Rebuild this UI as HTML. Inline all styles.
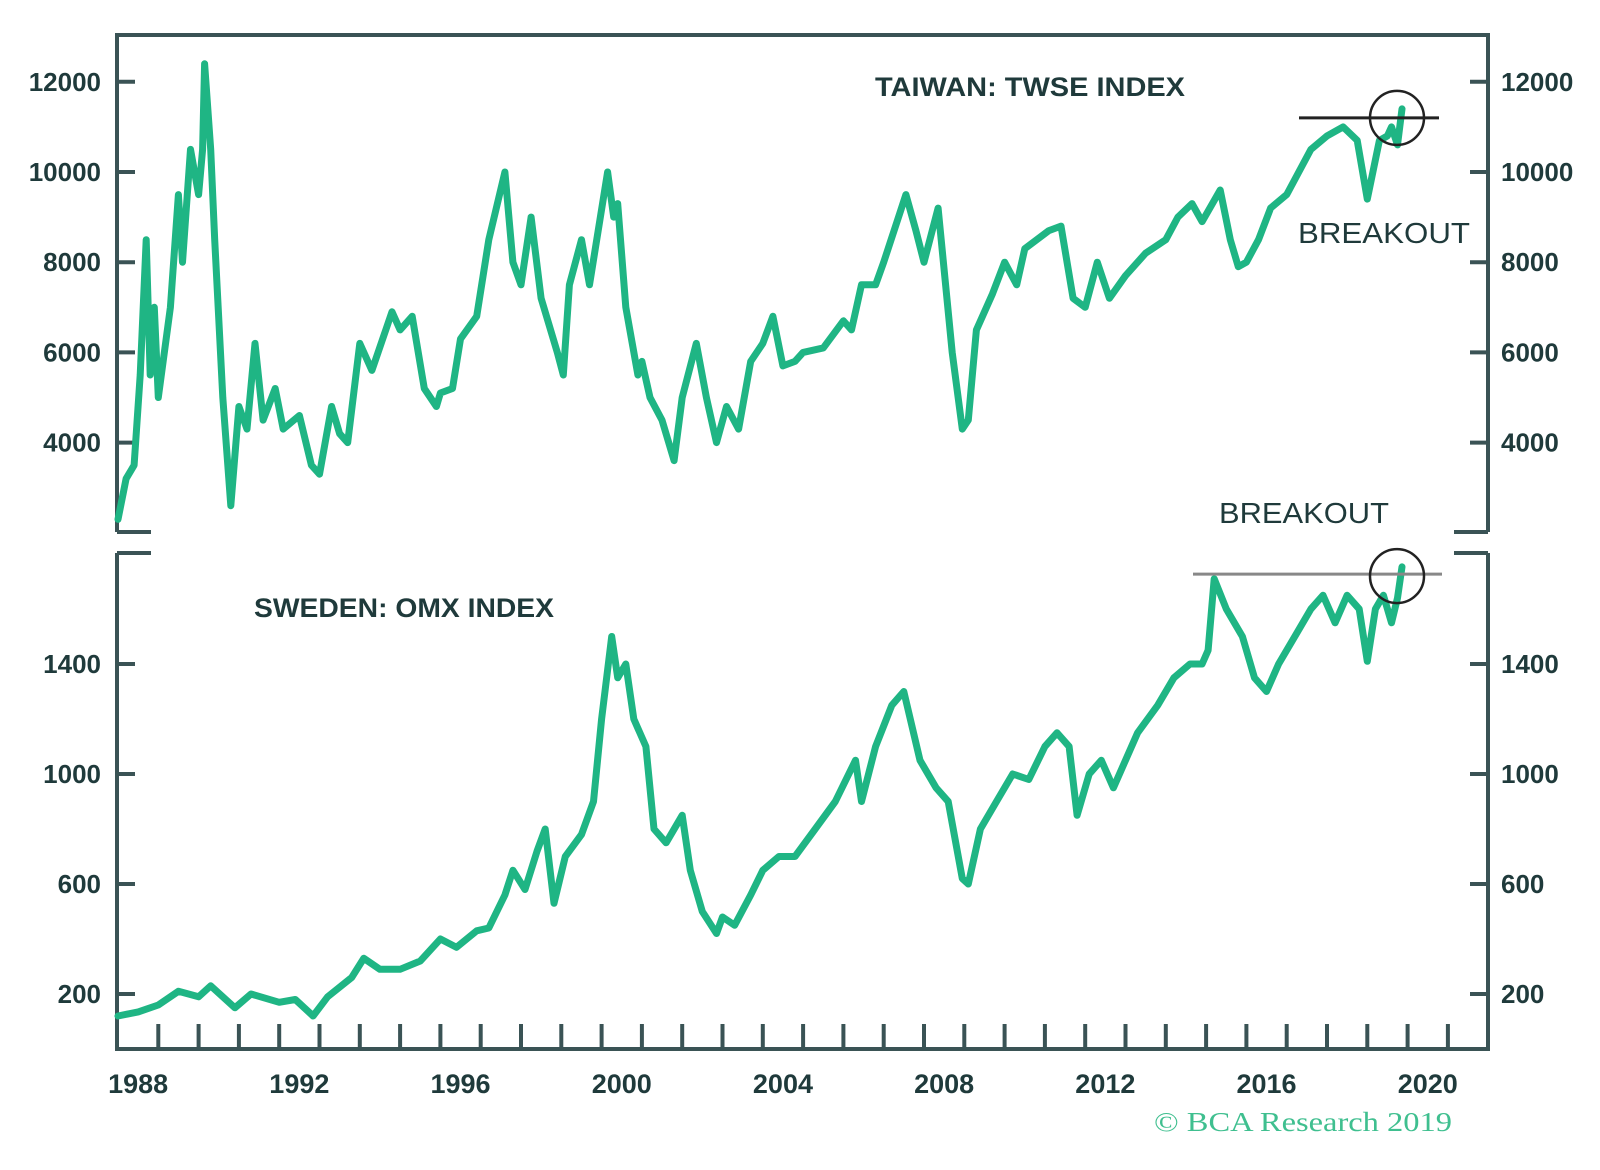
<!DOCTYPE html>
<html><head><meta charset="utf-8"><style>
html,body{margin:0;padding:0;background:#fff;}
svg{display:block;}
text{font-family:"Liberation Sans",sans-serif;}
</style></head><body>
<svg id="chart" width="1600" height="1170" viewBox="0 0 1600 1170" xmlns="http://www.w3.org/2000/svg"></svg>
<script>
const twYears=[1988.0,1988.2,1988.4,1988.55,1988.7,1988.8,1988.9,1989.0,1989.3,1989.5,1989.6,1989.8,1990.0,1990.1,1990.15,1990.3,1990.4,1990.6,1990.8,1991.0,1991.2,1991.4,1991.6,1991.9,1992.1,1992.5,1992.8,1993.0,1993.3,1993.5,1993.7,1994.0,1994.3,1994.8,1995.0,1995.3,1995.6,1995.9,1996.0,1996.3,1996.5,1996.9,1997.2,1997.6,1997.8,1998.0,1998.25,1998.5,1998.9,1999.05,1999.2,1999.5,1999.7,2000.15,2000.3,2000.4,2000.6,2000.9,2001.0,2001.2,2001.5,2001.8,2002.0,2002.35,2002.6,2002.85,2003.1,2003.4,2003.7,2004.0,2004.25,2004.5,2004.8,2005.0,2005.5,2006.0,2006.2,2006.45,2006.8,2007.0,2007.55,2007.8,2008.0,2008.35,2008.7,2008.95,2009.1,2009.3,2009.7,2010.0,2010.3,2010.5,2011.1,2011.4,2011.7,2012.0,2012.3,2012.6,2013.0,2013.5,2014.0,2014.3,2014.65,2014.9,2015.35,2015.6,2015.8,2016.0,2016.3,2016.6,2017.0,2017.3,2017.6,2018.0,2018.4,2018.75,2019.0,2019.3,2019.5,2019.6,2019.75,2019.86];
const twValues=[2300,3200,3500,5500,8500,5500,7000,5000,7000,9500,8000,10500,9500,10500,12400,10500,8500,5000,2600,4800,4300,6200,4500,5200,4300,4600,3500,3300,4800,4200,4000,6200,5600,6900,6500,6800,5200,4800,5100,5200,6300,6800,8500,10000,8000,7500,9000,7200,6000,5500,7500,8500,7500,10000,9000,9300,7000,5500,5800,5000,4500,3600,5000,6200,5000,4000,4800,4300,5800,6200,6800,5700,5800,6000,6100,6700,6500,7500,7500,8000,9500,8700,8000,9200,6000,4300,4500,6500,7300,8000,7500,8300,8700,8800,7200,7000,8000,7200,7700,8200,8500,9000,9300,8900,9600,8500,7900,8000,8500,9200,9500,10000,10500,10800,11000,10700,9400,10700,10800,11000,10600,11400];
const omxYears=[1988.0,1988.5,1989.0,1989.5,1990.0,1990.3,1990.9,1991.3,1992.0,1992.4,1992.84,1993.2,1993.8,1994.1,1994.5,1995.0,1995.5,1996.0,1996.4,1996.9,1997.2,1997.6,1997.8,1998.1,1998.4,1998.6,1998.82,1999.1,1999.5,1999.8,2000.0,2000.25,2000.4,2000.6,2000.8,2001.1,2001.3,2001.6,2002.0,2002.2,2002.5,2002.85,2003.0,2003.3,2003.7,2004.0,2004.4,2004.8,2005.3,2005.8,2006.3,2006.45,2006.8,2007.2,2007.5,2007.9,2008.3,2008.6,2008.95,2009.1,2009.4,2009.8,2010.2,2010.6,2011.0,2011.3,2011.6,2011.8,2012.1,2012.4,2012.7,2013.0,2013.3,2013.8,2014.2,2014.6,2014.9,2015.05,2015.2,2015.5,2015.9,2016.2,2016.5,2016.8,2017.2,2017.6,2017.9,2018.2,2018.5,2018.8,2019.0,2019.2,2019.4,2019.6,2019.75,2019.86];
const omxValues=[120,135,160,210,190,230,150,200,170,180,120,190,260,330,290,290,320,400,370,430,440,560,650,580,720,800,530,700,780,900,1200,1500,1350,1400,1200,1100,800,750,850,650,500,420,480,450,560,650,700,700,800,900,1050,900,1100,1250,1300,1050,950,900,620,600,800,900,1000,980,1100,1150,1100,850,1000,1050,950,1050,1150,1250,1350,1400,1400,1450,1710,1600,1500,1350,1300,1400,1500,1600,1650,1550,1650,1600,1410,1600,1650,1550,1640,1753];
const twTicks=[4000,6000,8000,10000,12000];
const omxTicks=[200,600,1000,1400];
const yearLabels=[1988,1992,1996,2000,2004,2008,2012,2016,2020];
const twBreakout=11200, omxBreakout=1727;

const NS='http://www.w3.org/2000/svg';
const svg=document.getElementById('chart');
const L=117,R=1488;
function x(yr){return 118+(yr-1988)*40.3;}
function yT(v){return 172-(v-10000)/2000*90.2;}
function yB(v){return 664-(v-1400)/400*110;}
function mk(tag,attrs,parent){const e=document.createElementNS(NS,tag);for(const k in attrs)e.setAttribute(k,attrs[k]);(parent||svg).appendChild(e);return e;}
const AX='#3a5355', TXT='#1f3a3b', GREEN='#1fb584';

const fr=mk('g',{});


mk('path',{d:`M${L},532 V35 H${R} V532 M${L},532 h34 M${R},532 h-34`,fill:'none',stroke:AX,'stroke-width':4},fr);
mk('path',{d:`M${L},553 V1049 H${R} V553 M${L},553 h34 M${R},553 h-34`,fill:'none',stroke:AX,'stroke-width':4},fr);

function yAxis(ticks,fn,name){
  const g=mk('g',{});
  
  
  ticks.forEach(t=>{
    const yy=fn(t);
    mk('line',{x1:L,x2:L+18,y1:yy,y2:yy,stroke:AX,'stroke-width':4},g);
    mk('line',{x1:R,x2:R-18,y1:yy,y2:yy,stroke:AX,'stroke-width':4},g);
    const a=mk('text',{x:101,y:yy+9,'text-anchor':'end','font-size':26,'font-weight':'bold',fill:TXT},g);a.textContent=t;
    
    
    const b=mk('text',{x:1501,y:yy+9,'text-anchor':'start','font-size':26,'font-weight':'bold',fill:TXT},g);b.textContent=t;
    
    
  });
}
yAxis(twTicks,yT,'taiwan-y-axis');
yAxis(omxTicks,yB,'sweden-y-axis');

const xg=mk('g',{});


for(let yr=1989;yr<=2021;yr++){mk('line',{x1:x(yr),x2:x(yr),y1:1049,y2:1024,stroke:AX,'stroke-width':4},xg);}
yearLabels.forEach(yr=>{const t=mk('text',{x:x(yr+0.5),y:1093,'text-anchor':'middle','font-size':27,'font-weight':'bold',fill:TXT},xg);t.textContent=yr;

});

function line(ys,vs,fn,name){
  const d=ys.map((yr,i)=>(i?'L':'M')+x(yr).toFixed(1)+','+fn(vs[i]).toFixed(1)).join(' ');
  const p=mk('path',{d:d,fill:'none',stroke:GREEN,'stroke-width':7,'stroke-linejoin':'round','stroke-linecap':'round'});
  
  
}
line(twYears,twValues,yT,'taiwan-twse-line');
line(omxYears,omxValues,yB,'sweden-omx-line');

const a1=mk('line',{x1:1299,x2:1439,y1:yT(twBreakout),y2:yT(twBreakout),stroke:'#222','stroke-width':3});


const c1=mk('circle',{cx:1397,cy:yT(twBreakout),r:27,fill:'none',stroke:'#222','stroke-width':2.5});


const a2=mk('line',{x1:1193,x2:1442,y1:yB(omxBreakout),y2:yB(omxBreakout),stroke:'#888','stroke-width':3});


const c2=mk('circle',{cx:1397,cy:yB(omxBreakout)+2,r:27,fill:'none',stroke:'#222','stroke-width':2.5});



function label(txt,xx,yy,w,size,weight,name,fill,family){
  const t=mk('text',{x:xx,y:yy,'font-size':size,'font-weight':weight,fill:fill||TXT,textLength:w,lengthAdjust:'spacingAndGlyphs'});
  if(family)t.setAttribute('style','font-family:'+family);
  t.textContent=txt;
  
  
}
label('TAIWAN: TWSE INDEX',875,96,310,27,'bold','taiwan-title');
label('SWEDEN: OMX INDEX',254,617,300,27,'bold','sweden-title');
label('BREAKOUT',1298,243,172,29,'normal','taiwan-breakout-label');
label('BREAKOUT',1219,523,170,29,'normal','sweden-breakout-label');
label('© BCA Research 2019',1154,1131,298,27,'normal','copyright','#3fbf8f','"Liberation Serif",serif');
</script>
</body></html>
